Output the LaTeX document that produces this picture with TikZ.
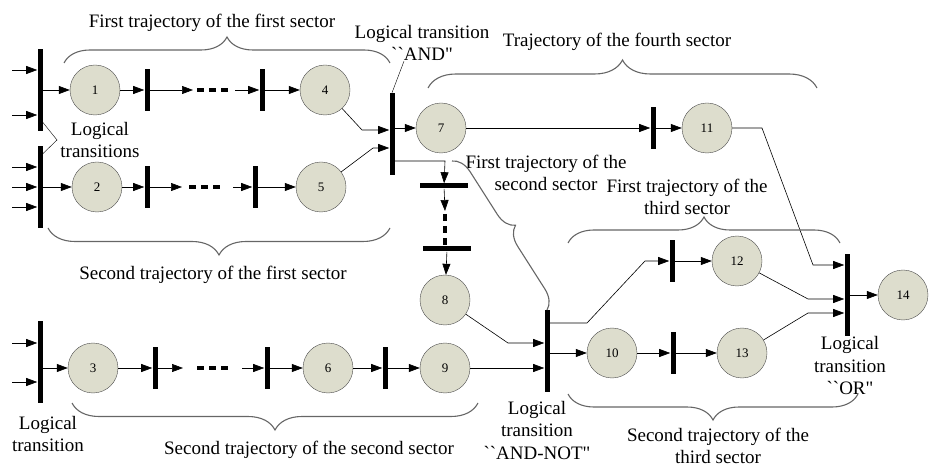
\documentclass[tikz,border=0pt]{standalone}
\usepackage{fontspec}
\setmainfont{Liberation Serif}
\usepackage{tikz}
\usetikzlibrary{decorations.pathreplacing, automata}
\usetikzlibrary{arrows.meta}

\definecolor{placefill}{RGB}{221,221,205}

\begin{document}
\begin{tikzpicture}[x=1pt,y=-1pt,>={Triangle[length=11pt,width=8pt]},semithick,
                    font=\fontsize{19}{22.5}\selectfont]
\tikzstyle{every state}=[fill=placefill,draw=black!70,text=black,thin,
                         minimum size=50pt,inner sep=0pt,font=\fontsize{13}{15}\selectfont]
\tikzset{trans/.style={fill=black,inner sep=0pt,minimum width=5pt,minimum height=42pt},
         bigtrans/.style={trans,minimum height=82pt},
         htrans/.style={fill=black,inner sep=0pt,minimum width=48pt,minimum height=5pt},
         dotline/.style={line width=4pt,dash pattern=on 7pt off 5pt},
         brc/.style={decorate,decoration={brace,amplitude=#1},draw=black!60,line width=1.1pt},
         lbl/.style={align=center,inner sep=0pt}}

\useasboundingbox (0,0) rectangle (929,470);

        % places
        \node[state]    (p1)    at (95,90)      {1};
        \node[state]    (p2)    at (97,187)     {2};
        \node[state]    (p3)    at (93,368)     {3};
        \node[state]    (p4)    at (325,90)     {4};
        \node[state]    (p5)    at (321,187)    {5};
        \node[state]    (p6)    at (328,368)    {6};
        \node[state]    (p7)    at (441,128)    {7};
        \node[state]    (p8)    at (445,300)    {8};
        \node[state]    (p9)    at (445,368)    {9};
        \node[state]    (p10)   at (612,353)    {10};
        \node[state]    (p11)   at (707,128)    {11};
        \node[state]    (p12)   at (737,261)    {12};
        \node[state]    (p13)   at (742,353)    {13};
        \node[state]    (p14)   at (903,295)    {14};

        % transitions
        \node[bigtrans] (tin1)    at (40,90)    {};
        \node[bigtrans] (tin2)    at (40,187)   {};
        \node[bigtrans] (tin3)    at (40,362)   {};
        \node[bigtrans] (tAND)    at (392,134)  {};
        \node[bigtrans] (tANDNOT) at (547,351)  {};
        \node[bigtrans] (tOR)     at (847,295)  {};
        \node[trans]    (ta1)     at (147,90)   {};
        \node[trans]    (ta2)     at (262,90)   {};
        \node[trans]    (tb1)     at (147,187)  {};
        \node[trans]    (tb2)     at (255,187)  {};
        \node[trans]    (tc1)     at (155,368)  {};
        \node[trans]    (tc2)     at (267,368)  {};
        \node[trans]    (tc3)     at (385,368)  {};
        \node[trans]    (t11)     at (653,128)  {};
        \node[trans]    (t12)     at (672,261)  {};
        \node[trans]    (t13)     at (673,353)  {};
        \node[htrans]   (th1)     at (444,186)  {};
        \node[htrans]   (th2)     at (447,249)  {};

        % free ends and bends
        \coordinate (i1) at (12,70);   \coordinate (i2) at (12,115);
        \coordinate (i3) at (12,167);  \coordinate (i4) at (12,187);
        \coordinate (i5) at (12,207);  \coordinate (i6) at (12,343);
        \coordinate (i7) at (12,382);
        \coordinate (r1a) at (193,90);  \coordinate (r1b) at (235,90);
        \coordinate (r2a) at (182,187); \coordinate (r2b) at (233,187);
        \coordinate (r3a) at (183,368); \coordinate (r3b) at (242,368);
        \coordinate (a4) at (362,130);  \coordinate (a5) at (373,148);
        \coordinate (v1) at (445,161);  \coordinate (v2) at (445,211);
        \coordinate (n8) at (508,343);
        \coordinate (m1) at (587,323);  \coordinate (m2) at (645,261);
        \coordinate (o11a) at (762,128); \coordinate (o11b) at (813,265);
        \coordinate (o12) at (808,299); \coordinate (o13) at (808,313);
        \coordinate (lt) at (57,140);

        \foreach \i/\t in {i1/tin1,i2/tin1,i3/tin2,i4/tin2,i5/tin2,i6/tin3,i7/tin3}
          \draw[->] (\i) -- (\i -| \t.west);

        \path[->]
        (tin1)  edge    (p1)
        (tin2)  edge    (p2)
        (p1)    edge    (ta1)
        (ta1)   edge    (r1a)
        (r1b)   edge    (ta2)
        (ta2)   edge    (p4)
        (p2)    edge    (tb1)
        (tb1)   edge    (r2a)
        (r2b)   edge    (tb2)
        (tb2)   edge    (p5)
        (p3)    edge    (tc1)
        (tc1)   edge    (r3a)
        (r3b)   edge    (tc2)
        (tc2)   edge    (p6)
        (p6)    edge    (tc3)
        (tc3)   edge    (p9)
        (p7)    edge    (t11)
        (t11)   edge    (p11)
        (th1)   edge    (v2)
        (th2)   edge    (p8)
        (t12)   edge    (p12)
        (p10)   edge    (t13)
        (t13)   edge    (p13)
        (tOR)   edge    (p14)
        ; %end path

        \draw[->] (p3 -| tin3.east) -- (p3);
        \draw[->] (p4) -- (a4) -- (a4 -| tAND.west);
        \draw[->] (p5) -- (a5) -- (a5 -| tAND.west);
        \draw[->] (p7 -| tAND.east) -- (p7);
        \draw[->] (v1 -| tAND.east) -- (v1) -- (th1);
        \draw[->] (p8) -- (n8) -- (n8 -| tANDNOT.west);
        \draw[->] (p9) -- (p9 -| tANDNOT.west);
        \draw[->] (p10 -| tANDNOT.east) -- (p10);
        \draw[->] (m1 -| tANDNOT.east) -- (m1) -- (m2) -- (t12);
        \draw[->] (p11) -- (o11a) -- (o11b) -- (o11b -| tOR.west);
        \draw[->] (p12) -- (o12) -- (o12 -| tOR.west);
        \draw[->] (p13) -- (o13) -- (o13 -| tOR.west);

        % omitted transitions
        \draw[dotline] ([xshift=4pt]r1a) -- ++(31,0);
        \draw[dotline] ([xshift=7pt]r2a) -- ++(31,0);
        \draw[dotline] ([xshift=14pt]r3a) -- ++(31,0);
        \draw[dotline] ([yshift=-3pt]v2) -- ++(0,31);

        % labels
        \node[lbl] (l1)  at (212,23)  {First trajectory of the first sector};
        \node[lbl] (l2)  at (213,275) {Second trajectory of the first sector};
        \node[lbl] (l3)  at (100,140) {Logical\\transitions};
        \node[lbl] (l4)  at (422,43)  {Logical transition\\\textasciigrave\textasciigrave AND\textquotedbl};
        \node[lbl] (l5)  at (617,42)  {Trajectory of the fourth sector};
        \node[lbl] (l6)  at (546,173) {First trajectory of the\\second sector};
        \node[lbl] (l7)  at (687,197) {First trajectory of the\\third sector};
        \node[lbl] (l8)  at (48,434)  {Logical\\transition};
        \node[lbl] (l9)  at (309,450) {Second trajectory of the second sector};
        \node[lbl] (l10) at (537,430) {Logical\\transition\\\textasciigrave\textasciigrave AND-NOT\textquotedbl};
        \node[lbl] (l11) at (850,366) {Logical\\transition\\\textasciigrave\textasciigrave OR\textquotedbl};
        \node[lbl] (l12) at (718,446) {Second trajectory of the\\third sector};

        \draw[thin] ([yshift=9pt]tin1.south east) -- (lt) -- ([yshift=-8pt]tin2.north east);
        \draw[thin] ([xshift=-18pt]l4.south) -- (tAND.north);

        % braces
        \draw[brc=26pt] (64,63)   -- (390,63);
        \draw[brc=27pt] (390,228) -- (48,228);
        \draw[brc=28pt] (428,88)  -- (817,88);
        \draw[brc=19pt] (452,161) -- (547,310);
        \draw[brc=26pt] (568,243) -- (840,243);
        \draw[brc=26pt] (858,394) -- (568,394);
        \draw[brc=27pt] (478,403) -- (72,403);
\end{tikzpicture}
\end{document}
